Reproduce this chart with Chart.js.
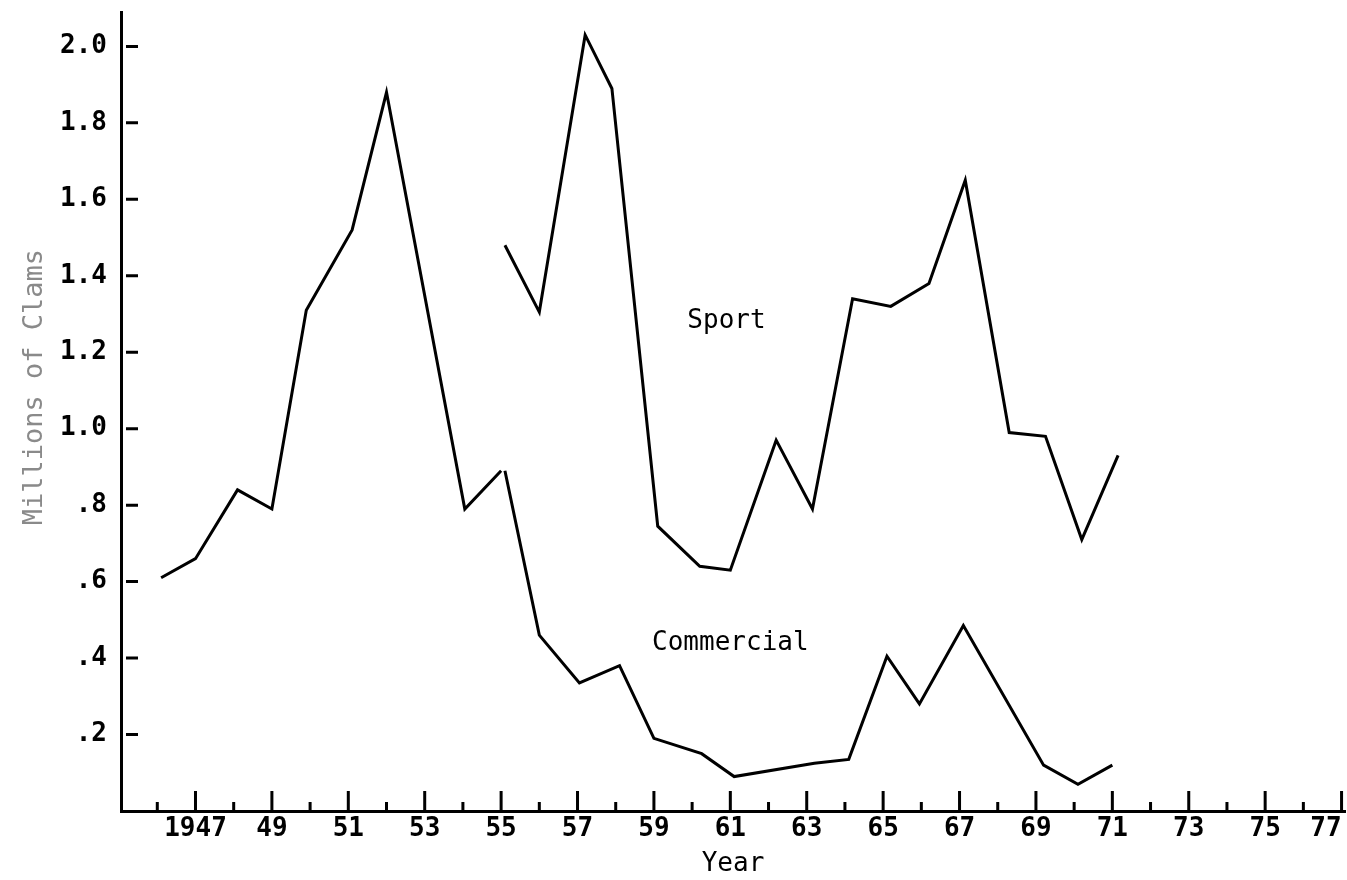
<!DOCTYPE html>
<html>
<head>
<meta charset="utf-8">
<script src="https://cdn.jsdelivr.net/npm/chart.js@4/dist/chart.umd.min.js"></script>
<style>
  body { margin: 0; background: #fff; }
  #wrap { width: 1347px; height: 880px; position: relative; }
</style>
</head>
<body>
<div id="wrap"><canvas id="myChart"></canvas></div>
<script>
// values (millions of clams)
var bothYears   = [1946.1, 1947.0, 1948.1, 1949.0, 1949.9, 1951.1, 1952.0, 1954.05, 1955.0];
var bothValues  = [0.61, 0.66, 0.84, 0.79, 1.31, 1.52, 1.88, 0.79, 0.89];

var sportYears  = [1955.1, 1956.0, 1957.2, 1957.9, 1959.1, 1960.2, 1961.0, 1962.2, 1963.15, 1964.2, 1965.2, 1966.2, 1967.15, 1968.3, 1969.25, 1970.2, 1971.15];
var sportValues = [1.48, 1.305, 2.03, 1.89, 0.745, 0.64, 0.63, 0.97, 0.79, 1.34, 1.32, 1.38, 1.65, 0.99, 0.98, 0.71, 0.93];

var commYears   = [1955.1, 1956.0, 1957.05, 1958.1, 1959.0, 1960.25, 1961.1, 1963.2, 1964.1, 1965.1, 1965.95, 1967.1, 1969.2, 1970.1, 1971.0];
var commValues  = [0.89, 0.46, 0.335, 0.38, 0.19, 0.15, 0.09, 0.125, 0.135, 0.405, 0.28, 0.485, 0.12, 0.07, 0.12];

var yTickValues = [0.2, 0.4, 0.6, 0.8, 1.0, 1.2, 1.4, 1.6, 1.8, 2.0];
var yTickLabels = [".2", ".4", ".6", ".8", "1.0", "1.2", "1.4", "1.6", "1.8", "2.0"];
// 1946 carries an empty label so that only the last one ("77") is pulled inside
var xLabelYears = [1946, 1947, 1949, 1951, 1953, 1955, 1957, 1959, 1961, 1963, 1965, 1967, 1969, 1971, 1973, 1975, 1977];
var xTickLabels = ["", "1947", "49", "51", "53", "55", "57", "59", "61", "63", "65", "67", "69", "71", "73", "75", "77"];

var seriesNotes = [
  { text: "Sport", x: 1960.9, y: 1.28 },
  { text: "Commercial", x: 1961.0, y: 0.44 }
];

var monoFont = "'DejaVu Sans Mono', 'Liberation Mono', monospace";

function toPoints(xs, ys) {
  return xs.map(function (x, i) { return { x: x, y: ys[i] }; });
}

function lineSet(label, xs, ys) {
  return {
    label: label,
    data: toPoints(xs, ys),
    borderColor: "#000",
    borderWidth: 3,
    pointRadius: 0,
    tension: 0,
    fill: false
  };
}

// hand drawn style tick marks and the two series names
var tickMarks = {
  id: "tickMarks",
  afterDraw: function (chart) {
    var ctx = chart.ctx;
    var xs = chart.scales.x, ys = chart.scales.y;
    ctx.save();
    ctx.strokeStyle = "#000";
    ctx.lineWidth = 3;
    ctx.beginPath();
    yTickValues.forEach(function (v) {
      var py = ys.getPixelForValue(v);
      ctx.moveTo(xs.left + 5, py);
      ctx.lineTo(xs.left + 17, py);
    });
    for (var yr = 1946; yr <= 1977; yr++) {
      var px = xs.getPixelForValue(yr);
      var len = (yr % 2 === 1) ? 20 : 9;
      ctx.moveTo(px, ys.bottom);
      ctx.lineTo(px, ys.bottom - len);
    }
    ctx.stroke();

    ctx.fillStyle = "#000";
    ctx.font = "26px " + monoFont;
    ctx.textAlign = "center";
    ctx.textBaseline = "middle";
    seriesNotes.forEach(function (n) {
      ctx.fillText(n.text, xs.getPixelForValue(n.x), ys.getPixelForValue(n.y));
    });
    ctx.restore();
  }
};

var ctx = document.getElementById("myChart").getContext("2d");
var chart = new Chart(ctx, {
  type: "line",
  data: {
    datasets: [
      lineSet("Total", bothYears, bothValues),
      lineSet("Sport", sportYears, sportValues),
      lineSet("Commercial", commYears, commValues)
    ]
  },
  options: {
    responsive: true,
    maintainAspectRatio: false,
    animation: false,
    layout: { padding: { top: 12, right: 2, left: 0, bottom: 0 } },
    plugins: { legend: { display: false }, tooltip: { enabled: false } },
    scales: {
      x: {
        type: "linear",
        min: 1945.05,
        max: 1977.09,
        afterBuildTicks: function (scale) {
          scale.ticks = xLabelYears.map(function (v) { return { value: v }; });
        },
        afterFit: function (scale) {
          scale.height = 69;
          scale.paddingLeft = 0;
          scale.paddingRight = 0;
        },
        grid: { display: false, drawTicks: false },
        border: { display: true, color: "#000", width: 3 },
        ticks: {
          autoSkip: false,
          maxRotation: 0,
          align: "inner",
          padding: 3,
          color: "#000",
          font: { family: monoFont, size: 26, weight: "bold" },
          callback: function (v) {
            var i = xLabelYears.indexOf(v);
            return i >= 0 ? xTickLabels[i] : "";
          }
        },
        title: {
          display: true,
          text: "Year",
          color: "#000",
          font: { family: monoFont, size: 26 },
          padding: { top: 1, bottom: 0 }
        }
      },
      y: {
        min: 0,
        max: 2.09,
        afterBuildTicks: function (scale) {
          scale.ticks = yTickValues.map(function (v) { return { value: v }; });
        },
        afterFit: function (scale) {
          scale.width = 121;
          scale.paddingTop = 0;
          scale.paddingBottom = 0;
        },
        grid: { display: false, drawTicks: false },
        border: { display: true, color: "#000", width: 3 },
        ticks: {
          padding: 14,
          color: "#000",
          font: { family: monoFont, size: 26, weight: "bold" },
          callback: function (v) {
            var i = yTickValues.findIndex(function (t) { return Math.abs(t - v) < 1e-6; });
            return i >= 0 ? yTickLabels[i] : "";
          }
        },
        title: {
          display: true,
          text: "   Millions of Clams",
          color: "#8a8a8a",
          font: { family: monoFont, size: 27 },
          padding: { top: 19, bottom: 0 }
        }
      }
    }
  },
  plugins: [tickMarks]
});
</script>
</body>
</html>
